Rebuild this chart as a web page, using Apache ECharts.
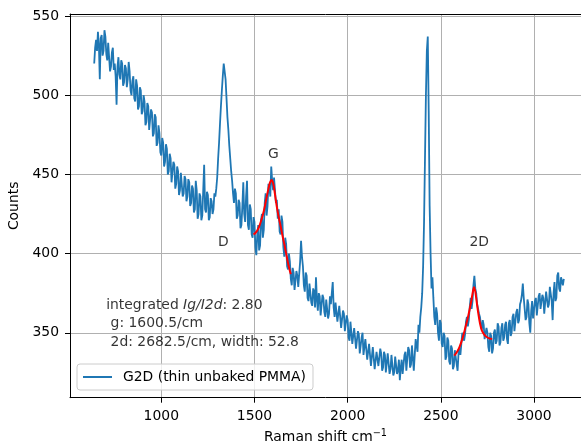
<!DOCTYPE html>
<html><head><meta charset="utf-8">
<script src="https://cdn.jsdelivr.net/npm/echarts@6/dist/echarts.min.js"></script>
<style>html,body{margin:0;padding:0;background:#fff}#c{width:581px;height:445px}</style>
</head><body><div id="c"></div>
<script>
const ramanShift = [
640,645,650,655,660,665,670,675,680,685,
690,695,700,705,710,715,720,725,730,735,
740,745,750,755,760,765,770,775,780,785,
790,795,800,805,810,815,820,825,830,835,
840,845,850,855,860,865,870,875,880,885,
890,895,900,905,910,915,920,925,930,935,
940,945,950,955,960,965,970,975,980,985,
990,995,1000,1005,1010,1015,1020,1025,1030,1035,
1040,1045,1050,1055,1060,1065,1070,1075,1080,1085,
1090,1095,1100,1105,1110,1115,1120,1125,1130,1135,
1140,1145,1150,1155,1160,1165,1170,1175,1180,1185,
1190,1195,1200,1205,1210,1215,1220,1225,1230,1235,
1240,1245,1250,1255,1260,1265,1270,1275,1280,1285,
1290,1295,1300,1305,1310,1315,1320,1325,1330,1335,
1340,1345,1350,1355,1360,1365,1370,1375,1380,1385,
1390,1395,1400,1405,1410,1415,1420,1425,1430,1435,
1440,1445,1450,1455,1460,1465,1470,1475,1480,1485,
1490,1495,1500,1505,1510,1515,1520,1525,1530,1535,
1540,1545,1550,1555,1560,1565,1570,1575,1580,1585,
1590,1595,1600,1605,1610,1615,1620,1625,1630,1635,
1640,1645,1650,1655,1660,1665,1670,1675,1680,1685,
1690,1695,1700,1705,1710,1715,1720,1725,1730,1735,
1740,1745,1750,1755,1760,1765,1770,1775,1780,1785,
1790,1795,1800,1805,1810,1815,1820,1825,1830,1835,
1840,1845,1850,1855,1860,1865,1870,1875,1880,1885,
1890,1895,1900,1905,1910,1915,1920,1925,1930,1935,
1940,1945,1950,1955,1960,1965,1970,1975,1980,1985,
1990,1995,2000,2005,2010,2015,2020,2025,2030,2035,
2040,2045,2050,2055,2060,2065,2070,2075,2080,2085,
2090,2095,2100,2105,2110,2115,2120,2125,2130,2135,
2140,2145,2150,2155,2160,2165,2170,2175,2180,2185,
2190,2195,2200,2205,2210,2215,2220,2225,2230,2235,
2240,2245,2250,2255,2260,2265,2270,2275,2280,2285,
2290,2295,2300,2305,2310,2315,2320,2325,2330,2335,
2340,2345,2350,2355,2360,2365,2370,2375,2380,2385,
2390,2395,2400,2405,2410,2415,2420,2425,2430,2435,
2440,2445,2450,2455,2460,2465,2470,2475,2480,2485,
2490,2495,2500,2505,2510,2515,2520,2525,2530,2535,
2540,2545,2550,2555,2560,2565,2570,2575,2580,2585,
2590,2595,2600,2605,2610,2615,2620,2625,2630,2635,
2640,2645,2650,2655,2660,2665,2670,2675,2680,2685,
2690,2695,2700,2705,2710,2715,2720,2725,2730,2735,
2740,2745,2750,2755,2760,2765,2770,2775,2780,2785,
2790,2795,2800,2805,2810,2815,2820,2825,2830,2835,
2840,2845,2850,2855,2860,2865,2870,2875,2880,2885,
2890,2895,2900,2905,2910,2915,2920,2925,2930,2935,
2940,2945,2950,2955,2960,2965,2970,2975,2980,2985,
2990,2995,3000,3005,3010,3015,3020,3025,3030,3035,
3040,3045,3050,3055,3060,3065,3070,3075,3080,3085,
3090,3095,3100,3105,3110,3115,3120,3125,3130,3135,
3140,3145,3150,3155,3160];
const counts = [
520,530,535,528,540,532,510,536,538,525,
528,541,537,526,522,533,532,515,518,527,
530,516,520,512,494,518,524,513,510,522,
520,506,508,519,517,505,510,521,515,503,
500,509,512,498,496,510,506,491,493,505,
503,488,490,500,496,481,483,495,493,478,
479,491,489,474,476,488,486,468,470,481,
476,464,462,473,470,455,458,469,466,450,
452,463,460,445,446,458,456,441,444,455,
452,437,440,451,450,436,438,449,447,433,
436,447,445,430,432,443,441,426,428,446,
440,422,425,438,436,421,424,440,456,428,
426,439,437,421,423,435,433,425,428,438,
436,441,448,460,470,482,493,503,512,520,
521,510,498,486,478,468,460,452,446,438,
432,441,438,422,424,434,432,416,418,430,
445,425,420,436,446,418,415,431,428,412,
410,423,420,404,399,412,418,402,405,421,
425,410,415,432,438,424,430,444,442,436,
455,446,440,448,447,432,434,422,428,414,
412,424,420,404,398,410,406,392,390,400,
395,384,380,391,388,377,378,389,386,379,
379,395,408,398,392,380,376,388,386,372,
370,381,382,369,367,378,376,366,385,371,
364,375,373,361,362,374,372,363,360,371,
370,359,362,373,368,375,382,366,360,369,
368,357,356,367,366,353,354,364,362,351,
350,361,358,347,345,357,356,343,342,353,
352,340,341,351,349,337,338,347,350,336,
336,346,345,333,332,343,342,329,330,341,
340,327,328,338,339,329,330,340,337,326,
328,338,336,325,326,337,338,324,327,336,
335,323,325,335,334,324,326,333,320,328,
333,324,325,336,338,326,327,341,339,328,
330,342,343,326,327,346,345,338,355,350,
360,366,375,392,420,460,500,528,537,490,
430,400,378,385,372,360,355,366,362,350,
345,358,356,343,341,350,348,333,335,347,
345,332,330,342,340,327,329,339,338,330,
326,337,340,336,343,350,350,345,349,357,
360,354,358,366,372,365,370,380,386,378,
375,368,368,362,360,355,352,358,355,346,
347,353,350,341,338,350,348,337,340,350,
352,343,345,356,354,342,344,353,356,345,
347,355,357,346,343,356,358,348,350,360,
362,351,352,363,365,356,358,368,370,374,
381,372,365,358,360,371,368,356,350,364,
370,359,360,370,372,361,362,373,375,365,
365,374,372,362,363,376,377,366,368,379,
380,370,358,375,382,370,372,386,388,378,
376,385,386,380,384];
const gFitShift = [1495,1505,1515,1525,1535,1545,1555,1565,1575,1583,1592,1600,1607,1613,1620,1630,1640,1650,1660,1670,1680,1690,1695];
const gFitCounts = [412,413,414.5,417,420.5,424.5,429.5,435.5,441,444.8,446.5,444.5,440,435,429.5,423,417.5,411.5,406,400,394,389,387];
const d2FitShift = [2572,2585,2600,2615,2630,2645,2655,2665,2672,2678,2685,2692,2700,2710,2720,2735,2750,2765,2775];
const d2FitCounts = [335.5,337.5,341,346,352.5,359.5,365,371,376,378.8,376,370,363,356,351.5,348.5,347,346.3,346];
const peakLabelShift = [1333, 1602, 2706];
const peakLabelCounts = [407.3, 462.9, 407.3];
const peakLabelText = ['D', 'G', '2D'];
const noteAnchor = [707, 373];
const noteValues = ['2.80', '1600.5', '2682.5', '52.8'];
const xTickValues = [1000, 1500, 2000, 2500, 3000];
const yTickValues = [350, 400, 450, 500, 550];
const seriesName = 'G2D (thin unbaked PMMA)';

const FF = 'DejaVu Sans';
const FS = 13.9;
const X_MIN = 510.1, X_MAX = 3252.2, Y_MIN = 309, Y_MAX = 551.26;
const chart = echarts.init(document.getElementById('c'), null, {renderer: 'canvas'});
chart.setOption({
  animation: false,
  grid: {left: 70, top: 14, right: 0, bottom: 47.3, show: false, containLabel: false, outerBoundsMode: 'none'},
  legend: {
    data: [{name: seriesName, icon: 'rect'}],
    left: 77, top: 364, itemWidth: 29, itemHeight: 2,
    padding: [6, 7, 6, 6],
    backgroundColor: 'rgba(255,255,255,0.8)', borderColor: '#cccccc', borderWidth: 1, borderRadius: 3,
    textStyle: {fontFamily: FF, fontSize: FS, color: '#000', padding: [0, 0, 0, 6]}
  },
  xAxis: [{
    type: 'value', min: X_MIN, max: X_MAX, splitNumber: 5,
    name: 'Raman shift cm{sup|\u22121}', nameLocation: 'middle', nameGap: 31,
    nameTextStyle: {fontFamily: FF, fontSize: FS, color: '#000', rich: {sup: {fontFamily: FF, fontSize: 9.7, color: '#000', verticalAlign: 'top', padding: [0, 0, 8, 0]}}},
    axisLine: {show: true, onZero: false, lineStyle: {color: '#000', width: 1}},
    axisTick: {show: true, inside: false, length: 5, lineStyle: {color: '#000', width: 1}, customValues: xTickValues},
    axisLabel: {fontFamily: FF, fontSize: FS, color: '#000', margin: 12, customValues: xTickValues, formatter: v => String(v)},
    splitLine: {show: true, lineStyle: {color: '#b0b0b0', width: 1}}
  }, {
    type: 'value', position: 'top', min: X_MIN, max: X_MAX,
    axisLine: {show: true, onZero: false, lineStyle: {color: '#000', width: 1}},
    axisTick: {show: false}, axisLabel: {show: false}, splitLine: {show: false}
  }],
  yAxis: {
    type: 'value', min: Y_MIN, max: Y_MAX, splitNumber: 5,
    name: 'Counts', nameLocation: 'middle', nameGap: 39,
    nameTextStyle: {fontFamily: FF, fontSize: FS, color: '#000'},
    axisLine: {show: true, onZero: false, lineStyle: {color: '#000', width: 1}},
    axisTick: {show: true, inside: false, length: 5, lineStyle: {color: '#000', width: 1}, customValues: yTickValues},
    axisLabel: {fontFamily: FF, fontSize: FS, color: '#000', margin: 11, customValues: yTickValues, formatter: v => String(v)},
    splitLine: {show: true, lineStyle: {color: '#b0b0b0', width: 1}}
  },
  series: [
    {name: seriesName, type: 'line', data: ramanShift.map((x, i) => [x, counts[i]]), symbol: 'none', color: '#1f77b4', lineStyle: {width: 1.8, color: '#1f77b4'}, z: 2, silent: true},
    {name: 'gfit', type: 'line', data: gFitShift.map((x, i) => [x, gFitCounts[i]]), symbol: 'none', smooth: 0.3, color: '#ff0000', lineStyle: {width: 2, color: '#ff0000'}, z: 3, silent: true},
    {name: 'd2fit', type: 'line', data: d2FitShift.map((x, i) => [x, d2FitCounts[i]]), symbol: 'none', smooth: 0.3, color: '#ff0000', lineStyle: {width: 2, color: '#ff0000'}, z: 3, silent: true},
    {name: 'peaks', type: 'scatter', data: peakLabelShift.map((x, i) => [x, peakLabelCounts[i], peakLabelText[i]]), symbolSize: 1, itemStyle: {color: 'rgba(0,0,0,0)'}, silent: true, z: 5,
      label: {show: true, position: 'inside', formatter: p => p.data[2], fontFamily: FF, fontSize: FS, color: '#000'}},
    {name: 'note', type: 'scatter', data: [[noteAnchor[0], noteAnchor[1]]], symbolSize: 1, itemStyle: {color: 'rgba(0,0,0,0)'}, silent: true, z: 5,
      label: {show: true, position: [0, 0], align: 'left', verticalAlign: 'top',
        formatter: '{n|integrated }{i|Ig/I2d}{n|: ' + noteValues[0] + '}\n{n| g: ' + noteValues[1] + '/cm}\n{n| 2d: ' + noteValues[2] + '/cm, width: ' + noteValues[3] + '}',
        rich: {n: {fontFamily: FF, fontSize: FS, color: '#000', lineHeight: 18.7}, i: {fontFamily: FF, fontSize: FS, fontStyle: 'italic', color: '#000', lineHeight: 18.7}}}}
  ]
});
</script></body></html>
